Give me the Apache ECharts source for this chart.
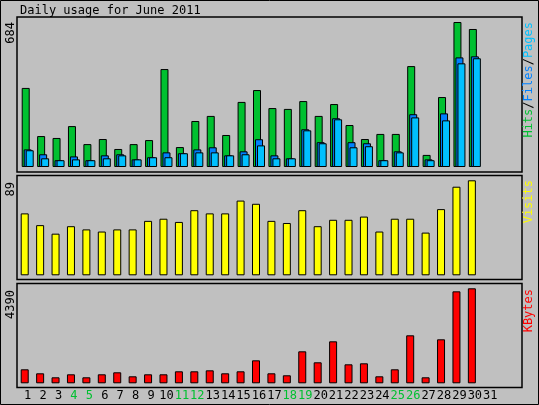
<!DOCTYPE html>
<html>
<head>
<meta charset="utf-8">
<script src="https://cdn.jsdelivr.net/npm/echarts@6/dist/echarts.min.js"></script>
<style>html,body{margin:0;padding:0;background:#c0c0c0}</style>
</head>
<body>
<div id="main" style="width:539px;height:405px"></div>
<script>
var days = [];
for (var d = 1; d <= 31; d++) days.push(String(d));
var weekends = ['4', '5', '11', '12', '18', '19', '25', '26'];

var hits = [373, 146, 137, 193, 108, 132, 85, 108, 127, 462, 94, 217, 241, 151, 307, 363,
    278, 274, 311, 241, 297, 198, 132, 156, 156, 476, 57, 330, 684, 651, null];
var files = [83, 60, 32, 50, 32, 55, 60, 36, 46, 69, 65, 83, 93, 55, 74, 131,
    55, 41, 178, 117, 230, 117, 112, 32, 74, 249, 36, 253, 517, 522, null];
var pages = [79, 41, 32, 36, 32, 41, 55, 36, 46, 46, 65, 69, 69, 55, 60, 102,
    41, 41, 173, 112, 225, 93, 98, 32, 69, 234, 32, 220, 489, 513, null];
var visits = [58, 47, 39, 46, 43, 41, 43, 43, 51, 53, 50, 61, 58, 58, 70, 67,
    51, 49, 61, 46, 52, 52, 55, 41, 53, 53, 40, 62, 83, 89, null];
var kbytes = [647, 462, 277, 416, 277, 416, 508, 323, 416, 416, 554, 554, 600, 462, 554, 1062,
    462, 370, 1478, 970, 1940, 877, 924, 323, 647, 2218, 277, 2033, 4250, 4390, null];

var font = 'DejaVu Sans Mono';
var chart = echarts.init(document.getElementById('main'));

function xAx(idx, showLabels) {
    return {
        type: 'category', gridIndex: idx, data: days,
        axisLine: { show: false }, axisTick: { show: false },
        axisLabel: {
            show: showLabels, interval: 0, margin: 7, fontFamily: font, fontSize: 12,
            padding: [0, 0, 0, 6],
            color: function (v) { return weekends.indexOf(v) >= 0 ? '#00c030' : '#000'; }
        }
    };
}
function yAx(idx, max) {
    return { type: 'value', gridIndex: idx, min: 0, max: max, show: false };
}
function panel(y, h) {
    return {
        type: 'rect', shape: { x: 17, y: y, width: 505, height: h },
        style: { fill: 'none', stroke: '#000', lineWidth: 1.5 }
    };
}
function vtext(x, y, rich, text) {
    return {
        type: 'text', x: x, y: y, rotation: Math.PI / 2,
        style: { text: text, rich: rich, font: '12px ' + font, fill: '#000', align: 'right', verticalAlign: 'top' }
    };
}
var bord = { borderColor: '#000', borderWidth: 1 };

chart.setOption({
    animation: false,
    backgroundColor: '#c0c0c0',
    grid: [
        { left: 20, width: 478, top: 22, bottom: 238 },
        { left: 17, width: 478, top: 180.3, bottom: 129.7 },
        { left: 17, width: 478, top: 288.3, bottom: 21.7 }
    ],
    xAxis: [xAx(0, false), xAx(1, false), xAx(2, true)],
    yAxis: [yAx(0, 684), yAx(1, 89), yAx(2, 4390)],
    series: [
        { name: 'Hits', type: 'bar', xAxisIndex: 0, yAxisIndex: 0, data: hits, barWidth: 8, barGap: '-75%',
            itemStyle: Object.assign({ color: '#00c030' }, bord) },
        { name: 'Files', type: 'bar', xAxisIndex: 0, yAxisIndex: 0, data: files, barWidth: 8, barGap: '-75%',
            itemStyle: Object.assign({ color: '#0080ff' }, bord) },
        { name: 'Pages', type: 'bar', xAxisIndex: 0, yAxisIndex: 0, data: pages, barWidth: 8, barGap: '-75%',
            itemStyle: Object.assign({ color: '#00c0ff' }, bord) },
        { name: 'Visits', type: 'bar', xAxisIndex: 1, yAxisIndex: 1, data: visits, barWidth: 8,
            itemStyle: Object.assign({ color: '#ffff00' }, bord) },
        { name: 'KBytes', type: 'bar', xAxisIndex: 2, yAxisIndex: 2, data: kbytes, barWidth: 8,
            itemStyle: Object.assign({ color: '#ff0000' }, bord) }
    ],
    graphic: [
        { type: 'rect', shape: { x: 0.5, y: 0.5, width: 538, height: 404 }, style: { fill: 'none', stroke: '#000', lineWidth: 1 } },
        panel(17, 155), panel(175.5, 104), panel(283.5, 104),
        { type: 'text', x: 20, y: 5, style: { text: 'Daily usage for June 2011', font: '12px ' + font, fill: '#000' } },
        vtext(5, 22, null, '684'),
        vtext(5, 182, null, '89'),
        vtext(5, 290, null, '4390'),
        vtext(523, 22, { p: { fill: '#00c0ff' }, f: { fill: '#0080ff' }, h: { fill: '#00c030' }, s: { fill: '#000' } },
            '{h|Hits}{s|/}{f|Files}{s|/}{p|Pages}'),
        vtext(523, 180, { v: { fill: '#ffff00' } }, '{v|Visits}'),
        vtext(523, 289, { k: { fill: '#ff0000' } }, '{k|KBytes}')
    ]
});
</script>
</body>
</html>
